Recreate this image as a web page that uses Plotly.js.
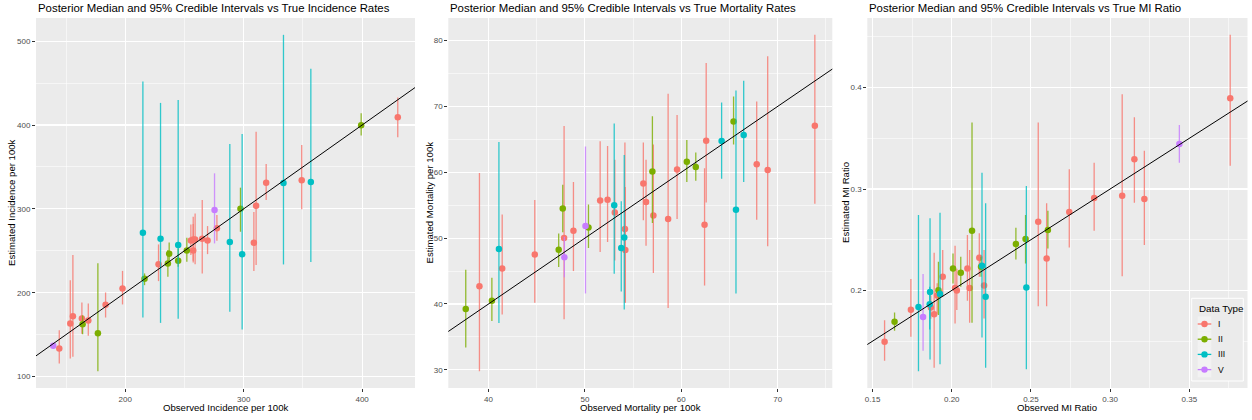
<!DOCTYPE html>
<html>
<head>
<meta charset="utf-8">
<script src="https://cdn.plot.ly/plotly-3.0.1.min.js"></script>
<style>
  html, body { margin: 0; padding: 0; background: #ffffff; }
  #chart { width: 1252px; height: 420px; }
</style>
</head>
<body>
<div id="chart"></div>
<script>
// Data types and their hue colours
const typeLevels = ["I", "II", "III", "V"];
const typeColors = ["#F8766D", "#7CAE00", "#00BFC4", "#C77CFF"];

// Incidence per 100k: observed, posterior median, 2.5% and 97.5% bounds
const incType = ["V","I","I","I","I","II","I","II","I","I","III","II","I","III","II","II","III","II","II","I","I","I","I","I","I","V","I","III","II","III","I","I","I","III","I","III","II","I"];
const incObs  = [139.2,144.3,153.6,155.8,163.4,164.0,168.8,176.9,183.4,197.7,214.9,216.3,228.1,229.8,236.0,237.1,244.7,244.7,252.0,255.4,257.4,257.4,259.0,265.0,269.5,275.4,277.4,288.3,297.3,298.7,308.6,310.5,319.0,333.6,349.0,356.7,399.2,430.1];
const incMed  = [136.6,133.4,163.3,172.0,169.3,162.5,166.9,151.7,185.6,205.0,271.5,216.6,234.0,264.4,234.9,246.5,256.8,238.0,250.4,262.4,263.6,250.4,263.6,264.4,262.4,298.6,277.0,260.4,300.2,246.0,259.6,303.8,331.2,330.8,334.0,332.0,399.7,409.3];
const incLo   = [133.4,115.5,121.5,123.5,151.0,150.5,148.6,106.4,170.4,186.0,170.4,209.0,213.8,164.0,219.0,235.0,169.0,231.0,237.0,245.0,238.0,236.0,234.0,223.0,246.0,258.8,262.0,177.2,272.7,156.0,226.0,233.0,310.5,233.7,299.4,236.5,387.4,385.4];
const incHi   = [139.6,155.3,215.0,244.9,188.4,173.0,187.0,235.0,200.3,226.0,451.8,223.0,257.6,426.4,250.8,260.0,430.0,252.8,265.6,281.5,290.6,282.0,294.6,310.5,279.5,342.4,292.6,377.4,325.3,389.3,296.2,392.0,353.5,507.6,376.2,467.0,414.0,432.7];

// Mortality per 100k
const morType = ["II","I","II","III","I","I","II","II","I","V","I","V","II","I","I","III","I","III","III","I","I","I","I","II","I","I","I","II","II","I","I","III","II","III","III","I","I","I"];
const morObs  = [37.64,39.06,40.35,41.08,41.42,44.80,47.28,47.70,47.84,47.87,48.81,50.06,50.37,51.58,52.35,53.04,53.10,53.77,54.08,54.15,54.19,56.06,56.34,57.00,57.10,58.63,59.56,60.57,61.50,62.41,62.58,64.18,65.42,65.67,66.47,67.82,68.96,73.85];
const morMed  = [39.25,42.70,40.50,48.35,45.40,47.50,48.25,54.50,50.00,47.10,51.10,51.84,51.60,55.70,55.83,54.97,53.90,48.50,50.10,51.40,48.20,58.30,55.50,60.10,53.45,52.90,60.40,61.60,60.80,52.04,64.78,64.73,67.70,54.30,65.64,61.20,60.33,67.06];
const morLo   = [33.40,29.80,37.40,37.10,38.40,40.20,45.60,50.90,37.70,44.05,45.00,41.60,48.50,47.90,49.40,44.60,46.60,41.90,39.15,40.20,40.20,52.70,48.85,52.30,44.70,39.40,52.90,58.50,58.70,42.80,55.40,59.00,64.20,41.60,58.50,52.80,48.75,55.20];
const morHi   = [45.20,59.90,44.00,64.60,53.60,55.80,50.70,58.10,67.00,50.20,58.50,63.90,55.10,64.70,64.00,67.40,61.90,55.60,62.60,64.50,57.75,64.50,61.90,68.50,64.20,71.90,68.70,64.90,63.00,60.60,76.60,70.60,71.50,72.40,73.90,70.75,77.60,80.86];

// Mortality-to-incidence ratio
const mirType = ["I","II","I","III","V","III","III","I","I","I","II","III","I","II","I","I","II","I","I","II","I","II","III","I","III","II","II","III","I","I","II","I","I","I","I","I","V","I"];
const mirObs  = [0.1576,0.1639,0.1742,0.1790,0.1819,0.1863,0.1861,0.1868,0.1889,0.1908,0.1916,0.1926,0.1943,0.2008,0.2021,0.2032,0.2057,0.2099,0.2113,0.2128,0.2174,0.2185,0.2191,0.2204,0.2214,0.2405,0.2466,0.2471,0.2546,0.2599,0.2607,0.2742,0.2899,0.3076,0.3153,0.3216,0.3437,0.3758];
const mirMed  = [0.1493,0.1691,0.1809,0.1836,0.1737,0.1984,0.1865,0.1832,0.1766,0.1950,0.2003,0.1964,0.2135,0.2217,0.2023,0.2000,0.2174,0.2217,0.2023,0.2589,0.2322,0.2234,0.2243,0.2049,0.1938,0.2457,0.2507,0.2030,0.2678,0.2316,0.2595,0.2773,0.2911,0.2934,0.3293,0.2901,0.3444,0.3895];
const mirLo   = [0.1306,0.1602,0.1543,0.1204,0.1405,0.1319,0.1615,0.1720,0.1237,0.1770,0.1757,0.1273,0.1938,0.2069,0.1674,0.1806,0.2036,0.1898,0.1681,0.1681,0.2135,0.2135,0.1536,0.1724,0.1237,0.2306,0.2266,0.1224,0.1845,0.1845,0.2414,0.2424,0.2589,0.2141,0.2865,0.2447,0.3260,0.3230];
const mirHi   = [0.1707,0.1783,0.2112,0.2743,0.2161,0.2711,0.2036,0.1950,0.2372,0.2070,0.2283,0.2766,0.2398,0.2365,0.2441,0.2214,0.2332,0.2546,0.2398,0.3655,0.2563,0.2332,0.3161,0.2398,0.2859,0.2618,0.2743,0.3030,0.3655,0.2859,0.2786,0.3194,0.3260,0.3934,0.3707,0.3378,0.3632,0.4520];

const W = 1252, H = 420;
const FONT = '"Liberation Sans", Arial, Helvetica, sans-serif';

// Panel geometry in pixels (left, right) and shared vertical extent
const panels = [
  { key: "", obs: incObs, med: incMed, lo: incLo, hi: incHi, type: incType,
    left: 36, right: 415,
    title: "Posterior Median and 95% Credible Intervals vs True Incidence Rates",
    xlab: "Observed Incidence per 100k", ylab: "Estimated Incidence per 100k",
    xdt: 100, ydt: 100, xfmt: "d", yfmt: "d", ylabX: 11 },
  { key: "2", obs: morObs, med: morMed, lo: morLo, hi: morHi, type: morType,
    left: 448.3, right: 832.3,
    title: "Posterior Median and 95% Credible Intervals vs True Mortality Rates",
    xlab: "Observed Mortality per 100k", ylab: "Estimated Mortality per 100k",
    xdt: 10, ydt: 10, xfmt: "d", yfmt: "d", ylabX: 428.5 },
  { key: "3", obs: mirObs, med: mirMed, lo: mirLo, hi: mirHi, type: mirType,
    left: 867.3, right: 1247.5,
    title: "Posterior Median and 95% Credible Intervals vs True MI Ratio",
    xlab: "Observed MI Ratio", ylab: "Estimated MI Ratio",
    xdt: 0.05, ydt: 0.1, xfmt: ".2f", yfmt: ".1f", ylabX: 845 }
];
const TOP = 18, BOTTOM = 388;

function expand(lo, hi) {
  const pad = (hi - lo) * 0.05;
  return [lo - pad, hi + pad];
}
function rgba(hex, a) {
  const n = parseInt(hex.slice(1), 16);
  return `rgba(${(n >> 16) & 255},${(n >> 8) & 255},${n & 255},${a})`;
}
const px = (x) => x / W;
const py = (y) => 1 - y / H;

const traces = [];
const layout = {
  width: W, height: H,
  margin: { l: 0, r: 0, t: 0, b: 0, pad: 0 },
  paper_bgcolor: "#ffffff",
  plot_bgcolor: "#EBEBEB",
  font: { family: FONT, color: "#000000" },
  showlegend: false,
  annotations: [],
  shapes: []
};

panels.forEach((p) => {
  const xa = "x" + p.key, ya = "y" + p.key;
  const xr = expand(Math.min(...p.obs), Math.max(...p.obs));
  const yr = expand(Math.min(...p.lo), Math.max(...p.hi));

  const axisCommon = {
    showgrid: true, gridcolor: "#ffffff", gridwidth: 1.1,
    zeroline: false, showline: false,
    ticks: "outside", ticklen: 3, tickwidth: 1, tickcolor: "#333333",
    tickfont: { size: 8, color: "#4D4D4D", family: FONT },
    automargin: false, fixedrange: true
  };
  layout["xaxis" + p.key] = Object.assign({}, axisCommon, {
    domain: [px(p.left), px(p.right)], anchor: ya,
    range: xr, tick0: 0, dtick: p.xdt, tickformat: p.xfmt,
    minor: { tick0: p.xdt / 2, dtick: p.xdt, showgrid: true, gridcolor: "#ffffff", gridwidth: 0.55, ticks: "" }
  });
  layout["yaxis" + p.key] = Object.assign({}, axisCommon, {
    domain: [py(BOTTOM), py(TOP)], anchor: xa,
    range: yr, tick0: 0, dtick: p.ydt, tickformat: p.yfmt,
    minor: { tick0: p.ydt / 2, dtick: p.ydt, showgrid: true, gridcolor: "#ffffff", gridwidth: 0.55, ticks: "" }
  });

  // Point estimates with credible intervals, one trace per data type
  typeLevels.forEach((t, k) => {
    const idx = p.type.map((v, i) => (v === t ? i : -1)).filter((i) => i >= 0);
    if (!idx.length) return;
    traces.push({
      type: "scatter", mode: "markers", xaxis: xa, yaxis: ya,
      x: idx.map((i) => p.obs[i]),
      y: idx.map((i) => p.med[i]),
      error_y: {
        type: "data", symmetric: false,
        array: idx.map((i) => p.hi[i] - p.med[i]),
        arrayminus: idx.map((i) => p.med[i] - p.lo[i]),
        color: rgba(typeColors[k], 0.8), thickness: 1.3, width: 0
      },
      marker: { color: typeColors[k], size: 6.5, line: { width: 0 } },
      name: t, hoverinfo: "skip"
    });
  });

  // Identity line y = x
  const lo = Math.min(xr[0], yr[0]), hi = Math.max(xr[1], yr[1]);
  traces.push({
    type: "scatter", mode: "lines", xaxis: xa, yaxis: ya,
    x: [lo, hi], y: [lo, hi],
    line: { color: "#000000", width: 1 },
    hoverinfo: "skip"
  });

  // Panel title and axis titles
  layout.annotations.push(
    { text: p.title, xref: "paper", yref: "paper", x: px(p.left), y: py(7.5),
      xanchor: "left", yanchor: "middle", showarrow: false,
      font: { size: 11.4, color: "#000000", family: FONT } },
    { text: p.xlab, xref: "paper", yref: "paper", x: px((p.left + p.right) / 2), y: py(407.5),
      xanchor: "center", yanchor: "middle", showarrow: false,
      font: { size: 9.6, color: "#000000", family: FONT } },
    { text: p.ylab, xref: "paper", yref: "paper", x: px(p.ylabX), y: py((TOP + BOTTOM) / 2),
      xanchor: "center", yanchor: "middle", textangle: -90, showarrow: false,
      font: { size: 9.6, color: "#000000", family: FONT } }
  );
});

// Legend box inside the ratio panel, bottom-right corner
const LG = { left: 1191.7, right: 1243.3, top: 298.3, bottom: 381, titleY: 308.5,
             row0: 324, rowStep: 15.2, keyL: 1197.7, keyR: 1211.3, textX: 1216 };
layout.shapes.push({
  type: "rect", xref: "paper", yref: "paper",
  x0: px(LG.left), x1: px(LG.right), y0: py(LG.bottom), y1: py(LG.top),
  fillcolor: "#EBEBEB", line: { color: "#ffffff", width: 1 }, layer: "above"
});
layout.annotations.push({
  text: "Data Type", xref: "paper", yref: "paper", x: px(LG.left + 5), y: py(LG.titleY),
  xanchor: "left", yanchor: "middle", showarrow: false,
  font: { size: 9.8, color: "#000000", family: FONT }
});
typeLevels.forEach((t, k) => {
  const cy = LG.row0 + k * LG.rowStep;
  const cx = (LG.keyL + LG.keyR) / 2;
  layout.shapes.push(
    { type: "rect", xref: "paper", yref: "paper",
      x0: px(LG.keyL), x1: px(LG.keyR), y0: py(cy + LG.rowStep / 2), y1: py(cy - LG.rowStep / 2),
      fillcolor: "#F2F2F2", line: { width: 0 }, layer: "above" },
    { type: "line", xref: "paper", yref: "paper",
      x0: px(LG.keyL), x1: px(LG.keyR), y0: py(cy), y1: py(cy),
      line: { color: typeColors[k], width: 1.3 }, layer: "above" },
    { type: "circle", xref: "paper", yref: "paper",
      x0: px(cx - 3.2), x1: px(cx + 3.2), y0: py(cy + 3.2), y1: py(cy - 3.2),
      fillcolor: typeColors[k], line: { width: 0 }, layer: "above" }
  );
  layout.annotations.push({
    text: t, xref: "paper", yref: "paper", x: px(LG.textX), y: py(cy),
    xanchor: "left", yanchor: "middle", showarrow: false,
    font: { size: 8.6, color: "#000000", family: FONT }
  });
});

Plotly.newPlot("chart", traces, layout, { staticPlot: true, displayModeBar: false });
</script>
</body>
</html>
